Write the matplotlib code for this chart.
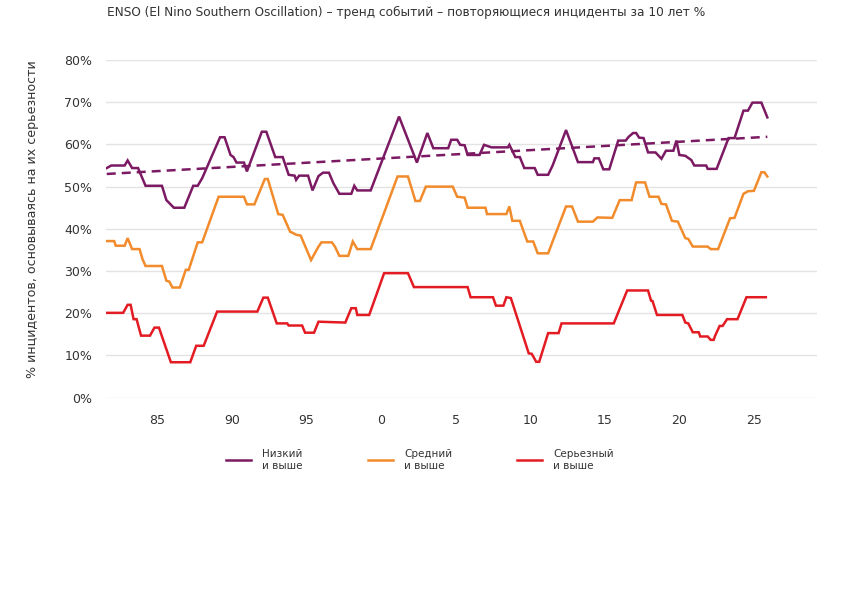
import matplotlib
matplotlib.use("Agg")
import matplotlib.pyplot as plt

plt.rcParams['font.family'] = ['DejaVu Sans']

# --- данные (годы, % инцидентов) ---
low_x = [1981.6, 1981.9, 1982.8, 1983.0, 1983.3, 1983.7, 1984.2, 1985.3, 1985.6, 1986.1,
         1986.8, 1987.4, 1987.7, 1988.0, 1989.2, 1989.5, 1989.9, 1990.1, 1990.3, 1990.8,
         1991.0, 1992.0, 1992.3, 1992.9, 1993.4, 1993.8, 1994.2, 1994.3, 1994.5, 1995.1,
         1995.4, 1995.8, 1996.1, 1996.5, 1996.8, 1997.2, 1998.0, 1998.2, 1998.4, 1999.3,
         2001.2, 2002.4, 2003.1, 2003.5, 2004.5, 2004.7, 2005.1, 2005.3, 2005.6, 2005.8,
         2006.6, 2006.9, 2007.4, 2008.5, 2008.6, 2009.0, 2009.3, 2009.6, 2010.3, 2010.5,
         2011.2, 2011.5, 2012.4, 2013.2, 2014.2, 2014.3, 2014.6, 2014.9, 2015.3, 2015.9,
         2016.4, 2016.6, 2016.9, 2017.1, 2017.3, 2017.6, 2017.9, 2018.4, 2018.8, 2019.1,
         2019.6, 2019.8, 2020.0, 2020.4, 2020.8, 2021.0, 2021.8, 2021.9, 2022.5, 2023.3,
         2023.7, 2024.3, 2024.6, 2024.9, 2025.5, 2025.9]
low_y = [54.4, 55.0, 55.0, 56.2, 54.4, 54.4, 50.2, 50.2, 46.8, 45.0,
         45.0, 50.2, 50.2, 52.0, 61.7, 61.7, 57.5, 57.0, 55.7, 55.7,
         53.6, 63.0, 63.0, 57.0, 57.0, 52.8, 52.6, 51.6, 52.6, 52.6,
         49.1, 52.5, 53.3, 53.3, 50.8, 48.3, 48.3, 50.2, 49.1, 49.1,
         66.6, 55.7, 62.7, 59.1, 59.1, 61.1, 61.1, 59.9, 59.8, 57.5,
         57.5, 59.9, 59.3, 59.3, 59.9, 57.0, 57.0, 54.4, 54.4, 52.8,
         52.8, 55.0, 63.4, 55.8, 55.8, 56.7, 56.7, 54.1, 54.1, 60.9,
         60.9, 61.8, 62.7, 62.7, 61.6, 61.5, 58.1, 58.1, 56.6, 58.5,
         58.5, 60.9, 57.5, 57.3, 56.3, 55.0, 55.0, 54.2, 54.2, 61.5,
         61.5, 68.0, 68.0, 69.9, 69.9, 66.4]

mid_x = [1981.6, 1982.1, 1982.2, 1982.8, 1983.0, 1983.3, 1983.8, 1984.0, 1984.2, 1985.3,
         1985.6, 1985.8, 1986.0, 1986.5, 1986.9, 1987.1, 1987.7, 1988.0, 1989.1, 1990.8,
         1991.0, 1991.5, 1992.2, 1992.4, 1993.1, 1993.4, 1993.9, 1994.1, 1994.3, 1994.6,
         1994.7, 1995.3, 1995.8, 1996.0, 1996.7, 1996.9, 1997.2, 1997.8, 1998.1, 1998.4,
         1999.3, 2001.1, 2001.8, 2002.3, 2002.6, 2003.0, 2004.8, 2005.1, 2005.6, 2005.8,
         2007.0, 2007.1, 2008.4, 2008.6, 2008.8, 2009.3, 2009.8, 2010.2, 2010.5, 2011.2,
         2011.5, 2012.4, 2012.8, 2013.2, 2014.2, 2014.5, 2015.5, 2016.0, 2016.8, 2017.1,
         2017.7, 2018.0, 2018.6, 2018.8, 2019.1, 2019.5, 2019.9, 2020.4, 2020.6, 2020.9,
         2021.9, 2022.1, 2022.6, 2023.4, 2023.7, 2024.3, 2024.6, 2025.0, 2025.5, 2025.7,
         2025.9]
mid_y = [37.1, 37.1, 36.0, 36.0, 37.8, 35.2, 35.2, 32.8, 31.2, 31.2,
         27.7, 27.5, 26.1, 26.1, 30.3, 30.3, 36.8, 36.8, 47.6, 47.6,
         45.8, 45.8, 51.8, 51.8, 43.5, 43.3, 39.3, 39.0, 38.6, 38.4,
         37.6, 32.6, 35.8, 36.8, 36.8, 35.8, 33.6, 33.6, 37.0, 35.2,
         35.2, 52.4, 52.4, 46.6, 46.6, 50.0, 50.0, 47.6, 47.4, 45.0,
         45.0, 43.5, 43.5, 45.3, 41.9, 41.9, 37.0, 37.0, 34.2, 34.2,
         37.0, 45.3, 45.3, 41.7, 41.7, 42.7, 42.6, 46.8, 46.8, 51.0,
         51.0, 47.6, 47.6, 45.9, 45.8, 41.9, 41.7, 37.8, 37.6, 35.8,
         35.8, 35.2, 35.2, 42.5, 42.6, 48.3, 48.9, 49.0, 53.4, 53.4,
         52.4]

high_x = [1981.6, 1982.7, 1983.0, 1983.2, 1983.4, 1983.6, 1983.9, 1984.5, 1984.8, 1985.1,
          1985.9, 1987.2, 1987.6, 1988.1, 1989.0, 1991.7, 1992.1, 1992.4, 1993.0, 1993.7,
          1993.8, 1994.7, 1994.9, 1995.5, 1995.8, 1997.6, 1998.0, 1998.3, 1998.4, 1999.2,
          2000.2, 2001.8, 2002.2, 2005.8, 2006.0, 2007.5, 2007.7, 2008.2, 2008.4, 2008.7,
          2009.9, 2010.1, 2010.4, 2010.6, 2011.2, 2011.9, 2012.1, 2015.6, 2016.5, 2017.9,
          2018.1, 2018.2, 2018.5, 2020.2, 2020.4, 2020.6, 2020.9, 2021.3, 2021.4, 2021.9,
          2022.1, 2022.3, 2022.4, 2022.7, 2022.9, 2023.2, 2023.9, 2024.5, 2025.8]
high_y = [20.1, 20.1, 22.0, 22.0, 18.6, 18.6, 14.7, 14.7, 16.6, 16.6,
          8.4, 8.4, 12.3, 12.3, 20.4, 20.4, 23.7, 23.7, 17.6, 17.6,
          17.1, 17.1, 15.4, 15.4, 18.0, 17.8, 21.2, 21.2, 19.6, 19.6,
          29.5, 29.5, 26.2, 26.2, 23.8, 23.8, 21.8, 21.8, 23.8, 23.6,
          10.5, 10.4, 8.5, 8.5, 15.3, 15.3, 17.6, 17.6, 25.4, 25.4,
          23.0, 22.9, 19.6, 19.6, 17.8, 17.6, 15.5, 15.5, 14.5, 14.5,
          13.7, 13.7, 14.7, 17.0, 17.0, 18.6, 18.6, 23.8, 23.8]

# линия тренда для "Низкий и выше"
trend_x = [1981.6, 2025.9]
trend_y = [53.0, 61.8]

tick_years = [1985, 1990, 1995, 2000, 2005, 2010, 2015, 2020, 2025]
tick_labels = ['85', '90', '95', '0', '5', '10', '15', '20', '25']
y_ticks = [0, 10, 20, 30, 40, 50, 60, 70, 80]

labels = ['Низкий\nи выше', 'Средний\nи выше', 'Серьезный\nи выше']
colors = ['#7b1a63', '#f28b2b', '#e31b23']

title = 'ENSO (El Nino Southern Oscillation) – тренд событий – повторяющиеся инциденты за 10 лет %'
ylabel = '% инцидентов, основываясь на их серьезности'

fig = plt.figure(figsize=(8.42, 5.95), dpi=100)
ax = fig.add_axes([0.1259, 0.3316, 0.8444, 0.5676])

ax.plot(low_x, low_y, color=colors[0], lw=1.8, label=labels[0], solid_joinstyle='miter')
ax.plot(mid_x, mid_y, color=colors[1], lw=1.8, label=labels[1], solid_joinstyle='miter')
ax.plot(high_x, high_y, color=colors[2], lw=1.8, label=labels[2], solid_joinstyle='miter')
ax.plot(trend_x, trend_y, color=colors[0], lw=1.8, dashes=(3.6, 2.4))

ax.set_xlim(1981.55, 2029.23)
ax.set_ylim(0, 80)
ax.set_xticks(tick_years)
ax.set_xticklabels(tick_labels)
ax.set_yticks(y_ticks)
ax.set_yticklabels([f'{v}%' for v in y_ticks])
ax.tick_params(length=0, labelsize=9, colors='#333333')
ax.tick_params(axis='x', pad=12)
ax.tick_params(axis='y', pad=10)
ax.grid(axis='y', color='#e3e3e3', lw=1)
ax.set_axisbelow(True)
for s in ax.spines.values():
    s.set_visible(False)

fig.text(107 / 842, 1 - 12 / 595, title, fontsize=8.7, color='#333333', va='center', ha='left')
fig.text(33 / 842, 1 - 219 / 595, ylabel, fontsize=9.1, color='#333333', rotation=90,
         va='center', ha='center')

fig.legend(loc='upper left', bbox_to_anchor=(226 / 842, 1 - 449 / 595), ncol=3,
           frameon=False, fontsize=7.5, labelcolor='#333333', handlelength=2.4,
           handletextpad=1.1, columnspacing=6.2, borderpad=0, borderaxespad=0)

fig.savefig('out.png', dpi=100)
